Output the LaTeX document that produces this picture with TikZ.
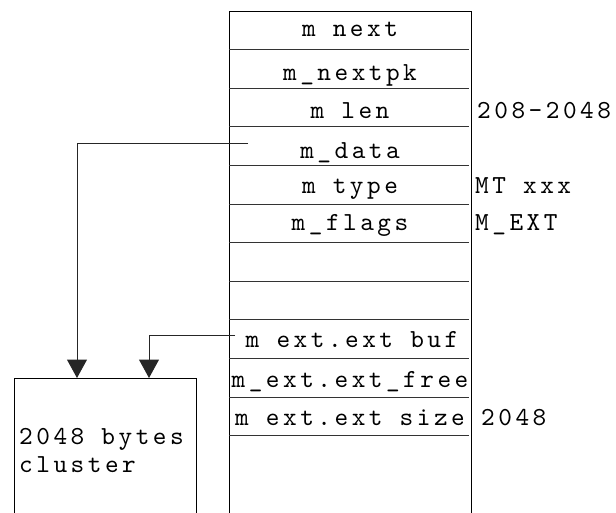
\documentclass[tikz,border=0pt]{standalone}
\usepackage{fontspec}
\usetikzlibrary{arrows.meta,calc}
\newfontfamily\mbufmono{lmmono10-regular}[Extension=.otf, LetterSpace=13.5]
\newcommand\mbuffont{\mbufmono\fontsize{26}{28}\selectfont}
\tikzset{
  field/.style={anchor=base, inner sep=0pt, font=\mbuffont},
  note/.style={anchor=base west, inner sep=0pt, font=\mbuffont},
  border/.style={draw=black, line width=1pt},
  divider/.style={draw=black!80, line width=1pt},
  ptr/.style={draw=black!85, line width=1pt, -{Triangle[width=20pt,length=18.5pt]}}
}
\begin{document}
\begin{tikzpicture}[x=1pt,y=-1pt]
  \clip (0,0) rectangle (616,512);
  \fill[white] (0,0) rectangle (616,512);

  % mbuf header column (runs off the bottom)
  \path[border] (229,530) -- (229,11) -- (471,11) -- (471,530);
  \foreach \k in {1,...,11}
    \path[divider] (229,{11+38.6*\k}) -- (469,{11+38.6*\k});

  % field names
  \node[field] (next)   at (350,36)  {m next};
  \node[field] (nextpk) at (350,80)  {m\_nextpk};
  \node[field] (len)    at (350,118) {m len};
  \node[field] (data)   at (350,158) {m\_data};
  \node[field] (type)   at (350,193) {m type};
  \node[field] (flags)  at (350,230) {m\_flags};
  \node[field] (extbuf) at (352,347) {m ext.ext buf};
  \node[field] (extfree) at (350,387) {m\_ext.ext\_free};
  \node[field] (extsize) at (350,425) {m ext.ext size};

  % values beside the fields
  \node[note] (lenval)  at (477,118) {208-2048};
  \node[note] (typeval) at (475,193) {MT xxx};
  \node[note] (flagval) at (475,230) {M\_EXT};
  \node[note] (sizeval) at (481,425) {2048};

  % external cluster
  \node[draw=black, line width=1pt, minimum width=182pt, minimum height=160pt,
        anchor=north west, inner sep=0pt] (cluster) at (14,378) {};
  \node[note] (ctext1) at (19,444) {2048 bytes};
  \node[note] (ctext2) at (19,472) {cluster};

  % pointers into the cluster
  \coordinate (dataptr) at (248,143);
  \coordinate (bufptr)  at (235,335);
  \draw[ptr] (dataptr) -| ([xshift=63pt]cluster.north west);
  \draw[ptr] (bufptr)  -| ([xshift=135pt]cluster.north west);
\end{tikzpicture}
\end{document}
